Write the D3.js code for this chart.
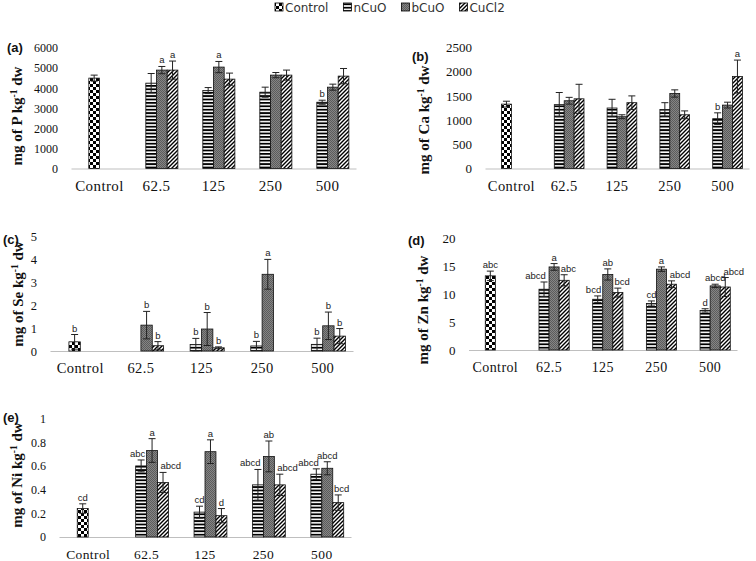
<!DOCTYPE html>
<html>
<head>
<meta charset="utf-8">
<script src="https://cdn.jsdelivr.net/npm/d3@7"></script>
<style>
  body { margin: 0; background: #fff; }
</style>
</head>
<body>
<script>
// categories and series
const categories = ["Control", "62.5", "125", "250", "500"];
const seriesNames = ["Control", "nCuO", "bCuO", "CuCl2"];

// one row per category: Control row = [Control], others = [nCuO, bCuO, CuCl2]
const pMean = [[4500], [4250, 4900, 4900], [3880, 5050, 4450], [3800, 4650, 4650], [3300, 4050, 4600]];
const pErr = [[150], [480, 180, 450], [150, 280, 300], [250, 130, 250], [100, 150, 380]];
const pSig = [[""], ["", "a", "a"], ["", "a", ""], ["", "", ""], ["b", "", ""]];
const pTicks = [0, 1000, 2000, 3000, 4000, 5000, 6000];

const caMean = [[1330], [1320, 1400, 1440], [1250, 1070, 1360], [1220, 1550, 1110], [1030, 1310, 1900]];
const caErr = [[60], [250, 70, 300], [180, 40, 140], [140, 75, 80], [120, 60, 340]];
const caSig = [[""], ["", "", ""], ["", "", ""], ["", "", ""], ["b", "", "a"]];
const caTicks = [0, 500, 1000, 1500, 2000, 2500];

const seMean = [[0.4], [null, 1.13, 0.23], [0.28, 0.96, 0.14], [0.22, 3.35, null], [0.29, 1.1, 0.65]];
const seErr = [[0.32], [null, 0.6, 0.18], [0.27, 0.72, 0.04], [0.2, 0.65, null], [0.27, 0.6, 0.33]];
const seSig = [["b"], ["", "b", "b"], ["b", "b", "b"], ["b", "a", ""], ["b", "b", "b"]];
const seTicks = [0, 1, 2, 3, 4, 5];

const znMean = [[13.3], [10.9, 14.9, 12.5], [9.1, 13.55, 10.3], [8.35, 14.5, 11.8], [7.1, 11.5, 11.3]];
const znErr = [[0.85], [1.3, 0.6, 1.0], [0.6, 1.0, 0.8], [0.45, 0.4, 0.6], [0.3, 0.3, 1.7]];
const znSig = [["abc"], ["abcd", "a", "abc"], ["bcd", "ab", "bcd"], ["cd", "a", "abcd"], ["d", "abcd", "abcd"]];
const znTicks = [0, 5, 10, 15, 20];

const niMean = [[0.24], [0.6, 0.73, 0.46], [0.21, 0.72, 0.18], [0.44, 0.68, 0.44], [0.53, 0.58, 0.29]];
const niErr = [[0.04], [0.05, 0.1, 0.085], [0.05, 0.1, 0.06], [0.13, 0.13, 0.09], [0.045, 0.055, 0.065]];
const niSig = [["cd"], ["abc", "a", "abcd"], ["cd", "a", "d"], ["abcd", "ab", "abcd"], ["abcd", "abcd", "bcd"]];
const niTicks = [0, 0.2, 0.4, 0.6, 0.8, 1];

const serif = "'Liberation Serif', 'Times New Roman', serif";
const sans = "'Liberation Sans', Arial, sans-serif";

const svg = d3.select("body").append("svg").attr("width", 756).attr("height", 561);

// fill patterns
const defs = svg.append("defs");

const checker = defs.append("pattern").attr("id", "pat-Control")
  .attr("patternUnits", "userSpaceOnUse").attr("width", 6).attr("height", 6);
checker.append("rect").attr("width", 6).attr("height", 6).attr("fill", "#fff");
checker.append("rect").attr("width", 3).attr("height", 3).attr("fill", "#000");
checker.append("rect").attr("x", 3).attr("y", 3).attr("width", 3).attr("height", 3).attr("fill", "#000");

const hstripe = defs.append("pattern").attr("id", "pat-nCuO")
  .attr("patternUnits", "userSpaceOnUse").attr("width", 4).attr("height", 3.4);
hstripe.append("rect").attr("width", 4).attr("height", 3.4).attr("fill", "#fff");
hstripe.append("rect").attr("width", 4).attr("height", 1.8).attr("fill", "#000");

const dots = defs.append("pattern").attr("id", "pat-bCuO")
  .attr("patternUnits", "userSpaceOnUse").attr("width", 2).attr("height", 2);
dots.append("rect").attr("width", 2).attr("height", 2).attr("fill", "#858585");
dots.append("rect").attr("width", 1).attr("height", 1).attr("fill", "#5c5c5c");
dots.append("rect").attr("x", 1).attr("y", 1).attr("width", 1).attr("height", 1).attr("fill", "#5c5c5c");

const diag = defs.append("pattern").attr("id", "pat-CuCl2")
  .attr("patternUnits", "userSpaceOnUse").attr("width", 4).attr("height", 4);
diag.append("rect").attr("width", 4).attr("height", 4).attr("fill", "#fff");
diag.append("path").attr("d", "M-1,1 l2,-2 M0,4 l4,-4 M3,5 l2,-2")
  .attr("stroke", "#000").attr("stroke-width", 1.4);

// legend
const legend = svg.append("g").attr("font-family", "'DejaVu Sans', sans-serif").attr("font-size", 12);
let lx = 275;
seriesNames.forEach(s => {
  legend.append("rect").attr("x", lx).attr("y", 3).attr("width", 8).attr("height", 8)
    .attr("fill", `url(#pat-${s})`).attr("stroke", "#000").attr("stroke-width", 0.8);
  const t = legend.append("text").attr("x", lx + 10).attr("y", 12).attr("fill", "#333").text(s);
  lx += 10 + t.node().getComputedTextLength() + 15;
});

const panels = [
  { tag: "(a)", el: "P", mean: pMean, err: pErr, sig: pSig, ticks: pTicks,
    x: [71, 356], y: [168.5, 48], tagPos: [7, 52], titlePos: [22, 116], tickFont: 12, catFont: 15 },
  { tag: "(b)", el: "Ca", mean: caMean, err: caErr, sig: caSig, ticks: caTicks,
    x: [485, 749], y: [168.5, 47.5], tagPos: [412, 61], titlePos: [429, 120], tickFont: 13, catFont: 14.5 },
  { tag: "(c)", el: "Se", mean: seMean, err: seErr, sig: seSig, ticks: seTicks,
    x: [50, 353], y: [351, 236.5], tagPos: [3, 244], titlePos: [23, 294], tickFont: 12.5, catFont: 14.5 },
  { tag: "(d)", el: "Zn", mean: znMean, err: znErr, sig: znSig, ticks: znTicks,
    x: [468.5, 737], y: [350, 238.5], tagPos: [408, 245], titlePos: [428, 310], tickFont: 13, catFont: 14 },
  { tag: "(e)", el: "Ni", mean: niMean, err: niErr, sig: niSig, ticks: niTicks,
    x: [59, 351], y: [537, 418.5], tagPos: [3, 422], titlePos: [22, 475], tickFont: 12, catFont: 13.5 }
];

function drawPanel(p) {
  const g = svg.append("g");

  const x0 = d3.scaleBand().domain(categories).range(p.x).paddingInner(0.25).paddingOuter(0.125);
  const x1 = d3.scaleBand().domain([0, 1, 2, 3]).range([0, x0.bandwidth()]);
  const y = d3.scaleLinear().domain([0, d3.max(p.ticks)]).range(p.y);

  g.append("g")
    .attr("transform", `translate(${p.x[0]},0)`)
    .call(d3.axisLeft(y).tickValues(p.ticks).tickSize(0).tickPadding(13).tickFormat(d => d))
    .call(a => a.select(".domain").remove())
    .selectAll("text")
    .attr("font-family", serif)
    .attr("font-size", p.tickFont)
    .attr("fill", "#111");

  g.append("g")
    .attr("transform", `translate(0,${p.y[0]})`)
    .call(d3.axisBottom(x0).tickSize(0).tickSizeOuter(0).tickPadding(22 - p.catFont * 0.71))
    .call(a => a.select(".domain").attr("stroke", "#bfbfbf").attr("stroke-width", 1.2))
    .selectAll("text")
    .attr("font-family", serif)
    .attr("font-size", p.catFont)
    .attr("letter-spacing", 0.4)
    .attr("fill", "#111");

  // flatten rows into bars
  const bars = [];
  p.mean.forEach((row, i) => row.forEach((v, j) => {
    if (v == null) return;
    bars.push({
      cat: categories[i],
      s: i === 0 ? "Control" : seriesNames[j + 1],
      slot: i === 0 ? 1 : j + 1,
      pos: i === 0 ? 1 : j,
      v: v,
      e: p.err[i][j],
      sig: p.sig[i][j]
    });
  }));

  const bw = x1.bandwidth();
  const cx = d => x0(d.cat) + x1(d.slot) + bw / 2;

  g.selectAll(".bar").data(bars).join("rect")
    .attr("class", "bar")
    .attr("x", d => x0(d.cat) + x1(d.slot))
    .attr("y", d => y(d.v))
    .attr("width", bw)
    .attr("height", d => y(0) - y(d.v))
    .attr("fill", d => `url(#pat-${d.s})`)
    .attr("stroke", "#111")
    .attr("stroke-width", 0.8);

  // error bars
  const eb = g.selectAll(".err").data(bars).join("g").attr("class", "err")
    .attr("stroke", "#222").attr("stroke-width", 1);
  eb.append("line")
    .attr("x1", cx).attr("x2", cx)
    .attr("y1", d => y(Math.max(0, d.v - d.e)))
    .attr("y2", d => y(d.v + d.e));
  eb.append("line")
    .attr("x1", d => cx(d) - 3.5).attr("x2", d => cx(d) + 3.5)
    .attr("y1", d => y(d.v + d.e)).attr("y2", d => y(d.v + d.e));
  eb.append("line")
    .attr("x1", d => cx(d) - 3.5).attr("x2", d => cx(d) + 3.5)
    .attr("y1", d => y(Math.max(0, d.v - d.e))).attr("y2", d => y(Math.max(0, d.v - d.e)));

  // significance letters
  g.selectAll(".sig").data(bars.filter(d => d.sig)).join("text")
    .attr("class", "sig")
    .attr("y", d => y(d.v + d.e) - 3)
    .attr("text-anchor", "middle")
    .attr("font-family", sans)
    .attr("font-size", 9.5)
    .attr("fill", "#222")
    .text(d => d.sig)
    .attr("x", function(d) {
      const over = Math.max(0, this.getComputedTextLength() - bw) * 0.8;
      return cx(d) + (d.pos === 0 ? -over : d.pos === 2 ? over : 0);
    });

  g.append("text")
    .attr("x", p.tagPos[0]).attr("y", p.tagPos[1])
    .attr("font-family", sans).attr("font-weight", "bold").attr("font-size", 13)
    .attr("fill", "#111")
    .text(p.tag);

  const title = g.append("text")
    .attr("transform", `translate(${p.titlePos[0]},${p.titlePos[1]}) rotate(-90)`)
    .attr("text-anchor", "middle")
    .attr("font-family", serif).attr("font-weight", "bold").attr("font-size", 15)
    .attr("fill", "#111");
  title.append("tspan").text(`mg of ${p.el} kg`);
  title.append("tspan").attr("font-size", 9.5).attr("dy", -5).text("-1");
  title.append("tspan").attr("dy", 5).text(" dw");
}

panels.forEach(drawPanel);
</script>
</body>
</html>
